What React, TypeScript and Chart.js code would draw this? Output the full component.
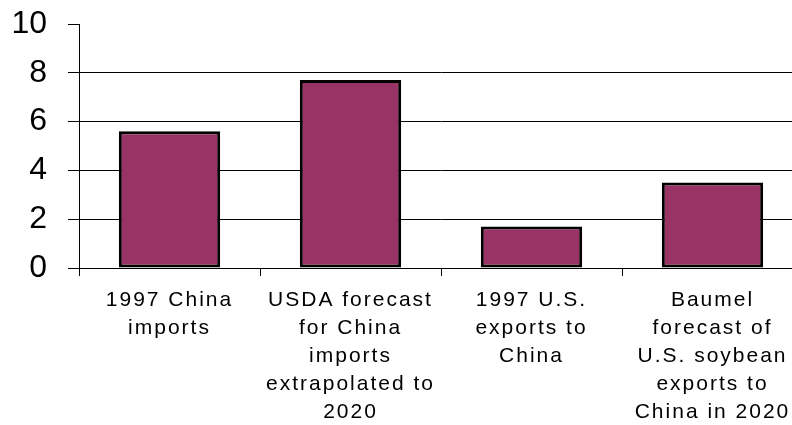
import React, { useEffect, useRef } from "react";
import { Chart, registerables } from "chart.js";

Chart.register(...registerables);

const categories: string[][] = [
  ["1997 China", "imports"],
  ["USDA forecast", "for China", "imports", "extrapolated to", "2020"],
  ["1997 U.S.", "exports to", "China"],
  ["Baumel", "forecast of", "U.S. soybean", "exports to", "China in 2020"],
];
const values: number[] = [5.6, 7.7, 1.7, 3.5];
const yTicks: number[] = [0, 2, 4, 6, 8, 10];

export default function App() {
  const ref = useRef<HTMLCanvasElement | null>(null);

  useEffect(() => {
    if (!ref.current) return;
    const chart = new Chart(ref.current, {
      type: "bar",
      data: {
        labels: categories,
        datasets: [
          {
            data: values,
            backgroundColor: "#993366",
            borderColor: "#000000",
            borderWidth: 3,
            borderSkipped: false,
            categoryPercentage: 1,
            barPercentage: 0.56,
          },
        ],
      },
      options: {
        animation: false,
        responsive: true,
        maintainAspectRatio: false,
        devicePixelRatio: 1,
        layout: { padding: { top: 24, left: 0, right: 0, bottom: 0 } },
        plugins: {
          legend: { display: false },
          tooltip: { enabled: false },
        },
        scales: {
          x: {
            offset: true,
            border: { display: true, color: "#000", width: 1 },
            grid: {
              offset: true,
              drawOnChartArea: false,
              drawTicks: true,
              tickLength: 8,
              color: "#000",
            },
            ticks: {
              color: "#000",
              padding: 10,
              maxRotation: 0,
              autoSkip: false,
              font: { family: "'Liberation Sans', Arial, sans-serif", size: 21, lineHeight: 28 / 21 },
            },
            afterFit: (scale: any) => {
              scale.height = 157;
              scale.paddingLeft = 0;
              scale.paddingRight = 0;
            },
            afterUpdate: (scale: any) => {
              if (!scale._lsPatched) {
                const orig = scale.drawLabels.bind(scale);
                scale.drawLabels = (ca: any) => {
                  const ctx = scale.ctx;
                  const prev = ctx.letterSpacing;
                  ctx.letterSpacing = "2px";
                  orig(ca);
                  ctx.letterSpacing = prev || "0px";
                };
                scale._lsPatched = true;
              }
            },
          },
          y: {
            min: 0,
            max: 10,
            border: { display: true, color: "#000", width: 1 },
            grid: {
              color: (ctx: any) => (ctx.tick && ctx.tick.value === 10 ? "rgba(0,0,0,0)" : "#000"),
              tickColor: "#000",
              tickLength: 11,
              lineWidth: 1,
            },
            afterBuildTicks: (scale: any) => {
              scale.ticks = yTicks.map((v) => ({ value: v }));
            },
            ticks: {
              color: "#000",
              padding: 21,
              font: { family: "'Liberation Sans', Arial, sans-serif", size: 32 },
            },
            afterFit: (scale: any) => {
              scale.width = 79;
              scale.paddingTop = 0;
              scale.paddingBottom = 0;
            },
          },
        },
      },
    });
    return () => chart.destroy();
  }, []);

  return (
    <div
      style={{
        position: "absolute",
        left: 0,
        top: 0,
        width: 792,
        height: 425,
        overflow: "hidden",
        background: "#fff",
      }}
    >
      <div style={{ position: "relative", width: 803, height: 425 }}>
        <canvas ref={ref} />
      </div>
    </div>
  );
}
